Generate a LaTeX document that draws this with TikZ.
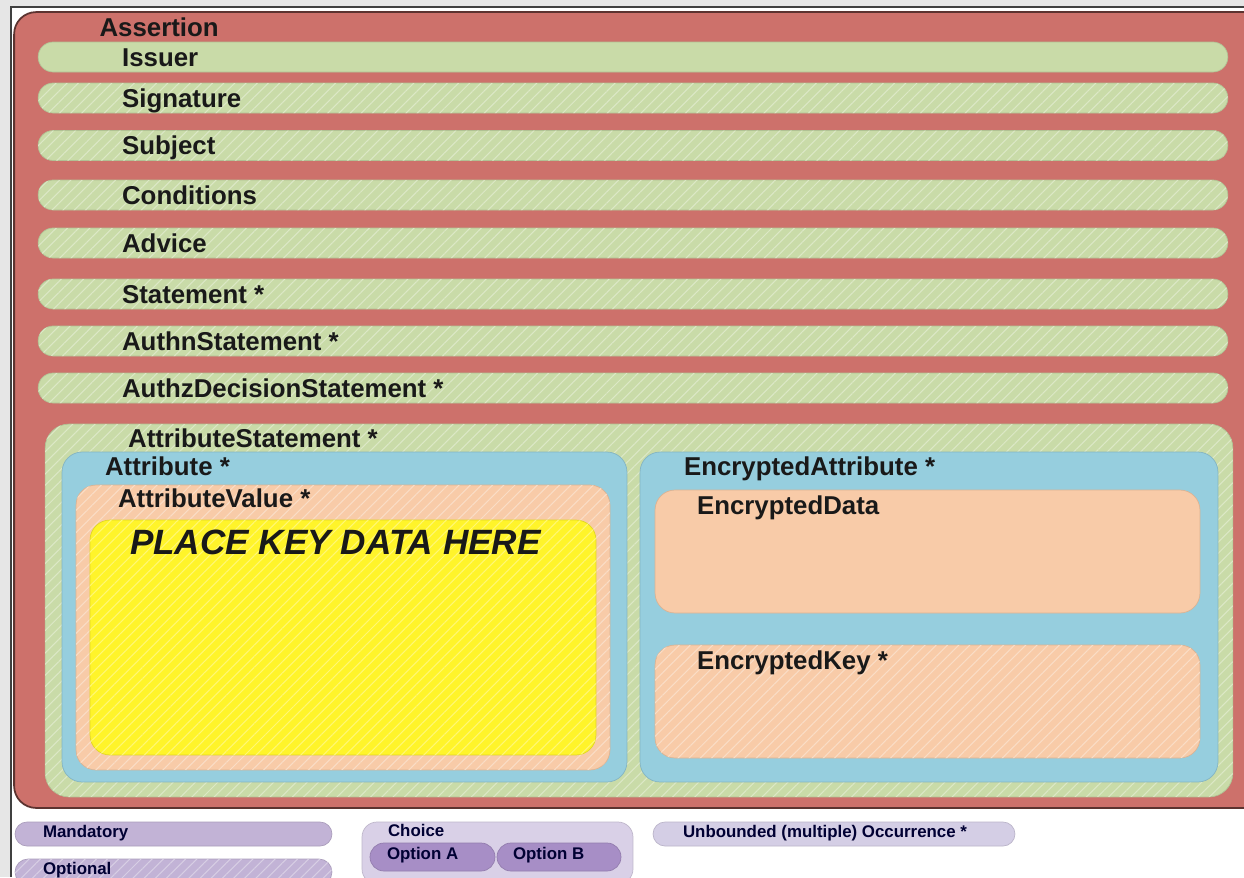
\documentclass[tikz,border=0pt]{standalone}
\usepackage{fontspec}
\setmainfont{Liberation Sans}
\usetikzlibrary{positioning, patterns.meta}

\definecolor{assertred}{HTML}{CD716B}
\definecolor{optgreen}{HTML}{C9DBA8}
\definecolor{attrblue}{HTML}{96CEDE}
\definecolor{valsalmon}{HTML}{F8CBA8}
\definecolor{keyyellow}{HTML}{FFF42A}
\definecolor{legendlilac}{HTML}{C2B3D6}
\definecolor{choicelilac}{HTML}{D9D0E7}
\definecolor{optionlilac}{HTML}{A78EC6}
\definecolor{unboundlilac}{HTML}{D4CEE5}
\definecolor{framegray}{HTML}{E6E6E6}

\begin{document}
\begin{tikzpicture}[
  x=0.02cm, y=-0.02cm,
  box/.style={rectangle, rounded corners=0.4cm, inner sep=0pt, draw=#1!88!black, line width=0.4pt, fill=#1},
  hatch/.style={postaction={pattern={Lines[angle=45,distance=4.5pt,line width=0.6pt]}, pattern color=#1!65!white}},
  bar/.style={box=optgreen, rounded corners=0.3cm, minimum width=23.8cm, minimum height=0.6cm},
  lbl/.style={inner sep=0pt, text height=10.5pt, text depth=0pt, font=\fontsize{14.7pt}{16pt}\selectfont\bfseries, text=black!90},
  legendlbl/.style={inner sep=0pt, text height=6.9pt, text depth=0pt, font=\fontsize{9.6pt}{11pt}\selectfont\bfseries, text=black!80!blue}
]
\useasboundingbox (0,0) rectangle (1244,877);

% window frame
\fill[framegray] (0,0) rectangle (1244,877);
\fill[white] (12,8) rectangle (1244,877);
\fill[black!75] (10,6) rectangle (12,877);
\fill[black!75] (10,6) rectangle (1244,8);

% assertion and its children
\node[box=assertred, rounded corners=0.44cm, minimum width=25.12cm, minimum height=15.92cm, draw=assertred!45!black, line width=1pt] (assertion) at (642,410) {};
\node[lbl, below right=0.12cm and 1.72cm of assertion.north west] (assertiontxt) {Assertion};

\node[bar] (issuer) at (633,57) {};
\node[bar, hatch=optgreen] (signature) at (633,98) {};
\node[bar, hatch=optgreen] (subject) at (633,145.5) {};
\node[bar, hatch=optgreen] (conditions) at (633,195) {};
\node[bar, hatch=optgreen] (advice) at (633,243) {};
\node[bar, hatch=optgreen] (statement) at (633,294) {};
\node[bar, hatch=optgreen] (authn) at (633,341) {};
\node[bar, hatch=optgreen] (authz) at (633,388) {};

\node[lbl, right=1.68cm of issuer.west] (issuertxt) {Issuer};
\node[lbl, right=1.68cm of signature.west] (signaturetxt) {Signature};
\node[lbl, right=1.68cm of subject.west] (subjecttxt) {Subject};
\node[lbl, right=1.68cm of conditions.west] (conditionstxt) {Conditions};
\node[lbl, right=1.68cm of advice.west] (advicetxt) {Advice};
\node[lbl, right=1.68cm of statement.west] (statementtxt) {Statement *};
\node[lbl, right=1.68cm of authn.west] (authntxt) {AuthnStatement *};
\node[lbl, right=1.68cm of authz.west] (authztxt) {AuthzDecisionStatement *};

% attribute statement
\node[box=optgreen, hatch=optgreen, rounded corners=0.48cm, minimum width=23.76cm, minimum height=7.46cm] (attrstmt) at (639,610.5) {};
\node[lbl, below right=0.1cm and 1.66cm of attrstmt.north west] (attrstmttxt) {AttributeStatement *};

\node[box=attrblue, minimum width=11.3cm, minimum height=6.6cm] (attribute) at (344.5,617) {};
\node[lbl, below right=0.1cm and 0.86cm of attribute.north west] (attributetxt) {Attribute *};

\node[box=valsalmon, hatch=valsalmon, minimum width=10.68cm, minimum height=5.7cm] (attrvalue) at (343,627.5) {};
\node[lbl, below right=0.08cm and 0.84cm of attrvalue.north west] (attrvaluetxt) {AttributeValue *};

\node[box=keyyellow, hatch=keyyellow, minimum width=10.12cm, minimum height=4.7cm] (keydata) at (343,637.5) {};
\node[lbl, text height=14.3pt, font=\fontsize{20pt}{22pt}\selectfont\bfseries\itshape, below right=0.18cm and 0.8cm of keydata.north west] (keydatatxt) {PLACE KEY DATA HERE};

\node[box=attrblue, minimum width=11.56cm, minimum height=6.6cm] (encattr) at (929,617) {};
\node[lbl, below right=0.1cm and 0.88cm of encattr.north west] (encattrtxt) {EncryptedAttribute *};

\node[box=valsalmon, minimum width=10.9cm, minimum height=2.46cm] (encdata) at (927.5,551.5) {};
\node[lbl, below right=0.12cm and 0.84cm of encdata.north west] (encdatatxt) {EncryptedData};

\node[box=valsalmon, hatch=valsalmon, minimum width=10.9cm, minimum height=2.26cm] (enckey) at (927.5,701.5) {};
\node[lbl, below right=0.12cm and 0.84cm of enckey.north west] (enckeytxt) {EncryptedKey *};

% legend
\node[box=legendlilac, rounded corners=0.24cm, minimum width=6.34cm, minimum height=0.48cm] (mandatory) at (173.5,834) {};
\node[legendlbl, right=0.56cm of mandatory.west, yshift=0.06cm] (mandatorytxt) {Mandatory};

\node[box=legendlilac, hatch=legendlilac, rounded corners=0.26cm, minimum width=6.34cm, minimum height=0.52cm] (optional) at (173.5,872) {};
\node[legendlbl, right=0.56cm of optional.west, yshift=0.08cm] (optionaltxt) {Optional};

\node[box=choicelilac, rounded corners=0.3cm, minimum width=5.42cm, minimum height=1.24cm] (choice) at (497.5,853) {};
\node[legendlbl, below right=0.04cm and 0.52cm of choice.north west] (choicetxt) {Choice};

\node[box=optionlilac, rounded corners=0.28cm, minimum width=2.5cm, minimum height=0.56cm] (optiona) at (432.5,857) {};
\node[legendlbl, right=0.34cm of optiona.west, yshift=0.08cm] (optionatxt) {Option A};

\node[box=optionlilac, rounded corners=0.28cm, minimum width=2.48cm, minimum height=0.56cm] (optionb) at (559,857) {};
\node[legendlbl, right=0.32cm of optionb.west, yshift=0.08cm] (optionbtxt) {Option B};

\node[box=unboundlilac, rounded corners=0.24cm, minimum width=7.24cm, minimum height=0.48cm] (unbounded) at (834,834) {};
\node[legendlbl, right=0.6cm of unbounded.west, yshift=0.06cm] (unboundedtxt) {Unbounded (multiple) Occurrence *};
\end{tikzpicture}
\end{document}
